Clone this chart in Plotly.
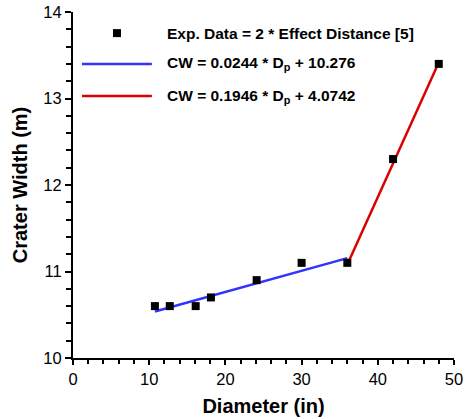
import numpy as np
import plotly.graph_objects as go

diameter_in = [10.75, 12.7, 16.1, 18.1, 24.1, 30.0, 36.0, 42.0, 48.0]
crater_width_m = [10.6, 10.6, 10.6, 10.7, 10.9, 11.1, 11.1, 12.3, 13.4]

# Linear fits: CW = a * Dp + b
fit1_x = [10.75, 36.0]
fit1_coef = (0.0244, 10.276)
fit2_x = [36.0, 48.0]
fit2_coef = (0.1946, 4.0742)

legend_labels = [
    "Exp. Data = 2 * Effect Distance [5]",
    "CW = 0.0244 * D<sub>p</sub> + 10.276",
    "CW = 0.1946 * D<sub>p</sub> + 4.0742",
]

FONT = "Liberation Sans, Arial, sans-serif"
BLUE = "#3333ff"
RED = "#dd0000"

fit1_y = [fit1_coef[0] * x + fit1_coef[1] for x in fit1_x]
fit2_y = [fit2_coef[0] * x + fit2_coef[1] for x in fit2_x]

fig = go.Figure()
fig.add_trace(go.Scatter(x=fit1_x, y=fit1_y, mode="lines",
                         line=dict(color=BLUE, width=2.5), showlegend=False))
fig.add_trace(go.Scatter(x=fit2_x, y=fit2_y, mode="lines",
                         line=dict(color=RED, width=2.5), showlegend=False))
fig.add_trace(go.Scatter(x=diameter_in, y=crater_width_m, mode="markers",
                         marker=dict(symbol="square", size=8, color="black"),
                         showlegend=False))

# Manual legend
leg_y = [0.939, 0.850, 0.757]
text_x = 0.2415
fig.add_shape(type="rect", xref="paper", yref="paper",
              xsizemode="pixel", ysizemode="pixel",
              xanchor=0.1155, yanchor=leg_y[0],
              x0=-4, x1=4, y0=-4, y1=4,
              fillcolor="black", line=dict(width=0))
fig.add_shape(type="line", xref="paper", yref="paper",
              x0=0.0236, x1=0.207, y0=leg_y[1], y1=leg_y[1],
              line=dict(color=BLUE, width=2.5))
fig.add_shape(type="line", xref="paper", yref="paper",
              x0=0.0236, x1=0.207, y0=leg_y[2], y1=leg_y[2],
              line=dict(color=RED, width=2.5))
for lbl, yy in zip(legend_labels, leg_y):
    fig.add_annotation(x=text_x, y=yy, xref="paper", yref="paper",
                       text="<b>" + lbl + "</b>", showarrow=False,
                       xanchor="left", yanchor="middle",
                       font=dict(family=FONT, size=15.5, color="black"))

axis_common = dict(
    showline=True, linecolor="black", linewidth=2,
    tickwidth=1.5, tickcolor="black", ticks="outside",
    showgrid=False, zeroline=False, mirror=False,
    tickfont=dict(family=FONT, size=16.5, color="black"),
)

fig.update_xaxes(range=[0, 50], dtick=10, tick0=0, ticklen=5,
                 minor=dict(dtick=2, ticks="outside", ticklen=4,
                            tickwidth=1.5, tickcolor="black", showgrid=False),
                 title=dict(text="<b>Diameter (in)</b>",
                            font=dict(family=FONT, size=20, color="black"),
                            standoff=12),
                 **axis_common)
fig.update_yaxes(range=[10, 14], dtick=1, tick0=10, ticklen=6,
                 minor=dict(dtick=0.2, ticks="outside", ticklen=5,
                            tickwidth=1.5, tickcolor="black", showgrid=False),
                 title=dict(text="<b>Crater Width (m)</b>",
                            font=dict(family=FONT, size=20, color="black"),
                            standoff=10),
                 **axis_common)

fig.update_layout(
    width=465, height=419,
    margin=dict(l=73, r=11, t=12, b=61, autoexpand=False),
    plot_bgcolor="white", paper_bgcolor="white",
    font=dict(family=FONT, color="black"),
)

fig.write_html("out.html")
